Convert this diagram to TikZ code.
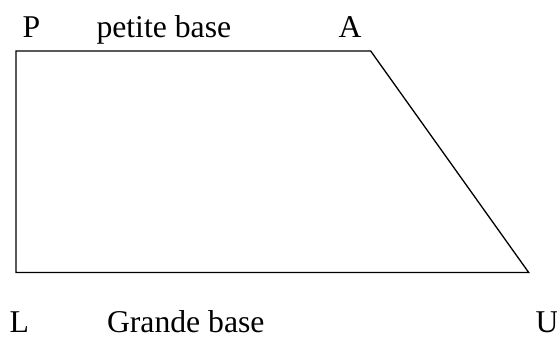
\documentclass[tikz,border=0pt]{standalone}
\usepackage{fontspec}
\setmainfont{Liberation Serif}
\begin{document}
\begin{tikzpicture}[x=1pt,y=-1pt,
  lbl/.style={anchor=base west,inner sep=0pt,outer sep=0pt,font=\fontsize{31.7}{36}\selectfont},
  edge/.style={line width=1.3pt,black}]
\useasboundingbox (0,0) rectangle (557,338);
\coordinate (cP) at (16,51);
\coordinate (cA) at (370.7,51);
\coordinate (cU) at (528.7,272.5);
\coordinate (cL) at (16,272.5);
\draw[edge] (cP) -- (cA) -- (cU) -- (cL) -- cycle;
\node[lbl] (P) at (22.5,37) {P};
\node[lbl] (pb) at (96.5,37) {petite base};
\node[lbl] (A) at (338.5,37) {A};
\node[lbl] (L) at (9.5,332) {L};
\node[lbl] (gb) at (107,332) {Grande base};
\node[lbl] (U) at (535.5,332) {U};
\end{tikzpicture}
\end{document}
